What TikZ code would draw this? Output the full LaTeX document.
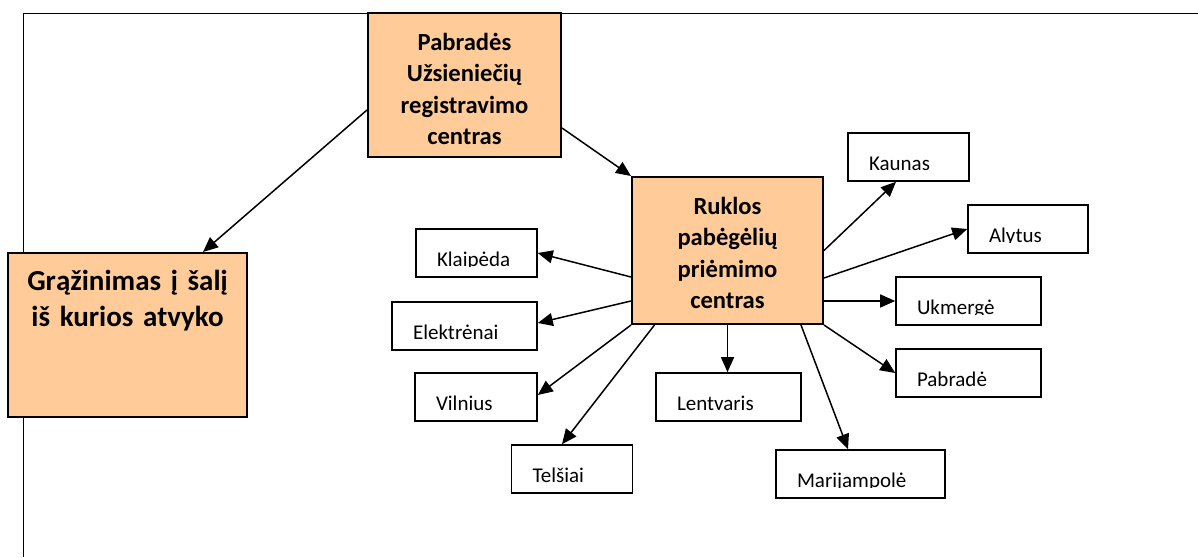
\documentclass[tikz,border=0pt]{standalone}
\usepackage{fontspec}
\setmainfont{Carlito}
\usepackage{tikz}
\usetikzlibrary{positioning,arrows.meta}
\definecolor{boxorange}{HTML}{FFCC99}
\tikzstyle{centre}=[draw, line width=1pt, fill=boxorange, align=center, inner xsep=2pt, inner ysep=0pt, text height=18.5pt, font=\fontsize{12.3}{15.8}\selectfont\bfseries]
\tikzstyle{city}=[draw, line width=0.8pt, fill=white, align=left, inner xsep=10.5pt, inner ysep=0pt, text height=18.5pt, text depth=5.5pt, font=\fontsize{10.5}{12.6}\selectfont]
\tikzstyle{link}=[->, line width=0.75pt]

\begin{document}
\begin{tikzpicture}[x=0.5pt, y=-0.5pt, >={Triangle[length=7.5pt,width=6.5pt]}]
            \useasboundingbox (0,0) rectangle (1198,557);
            \draw[line width=0.5pt] (23,557) -- (23,13) -- (1198,13);

            \node[centre, text width=92.5pt, text depth=53.5pt] (pabrades) at (464.5,85) {Pabradės\\ Užsieniečių\\ registravimo\\ centras};
            \node[centre, text width=91.5pt, text depth=55pt] (ruklos) at (727.5,250.5) {Ruklos\\ pabėgėlių\\ priėmimo\\ centras};
            \node[centre, text width=115.5pt, text depth=63.5pt, font=\fontsize{14.5}{18}\selectfont\bfseries] (grazinimas) at (127.5,335) {Grąžinimas į šalį\\ iš kurios atvyko};

            \node[city, text width=39.5pt] (klaipeda) at (476.5,253) {Klaipėda};
            \node[city, text width=51.5pt] (elektrenai) at (464.5,326) {Elektrėnai};
            \node[city, text width=40pt] (vilnius) at (476,397) {Vilnius};
            \node[city, text width=39.5pt] (telsiai) at (572,469) {Telšiai};
            \node[city, text width=51.5pt] (lentvaris) at (728.5,397) {Lentvaris};
            \node[city, text width=63.5pt] (marijampole) at (860.5,474) {Marijampolė};
            \node[city, text width=39.5pt] (kaunas) at (908.5,157) {Kaunas};
            \node[city, text width=39pt] (alytus) at (1028,229) {Alytus};
            \node[city, text width=51.5pt] (ukmerge) at (968.5,301) {Ukmergė};
            \node[city, text width=51.5pt] (pabrade) at (968.5,373) {Pabradė};

            \foreach \c in {klaipeda,elektrenai,vilnius,telsiai,lentvaris,marijampole,kaunas,alytus,ukmerge,pabrade}
                \fill[white] ([shift={(1pt,1.5pt)}]\c.south west) rectangle ([shift={(-1pt,5.2pt)}]\c.south east);

            \draw[link] ([yshift=-12.5pt]pabrades.west) -- ([xshift=37.75pt]grazinimas.north);
            \draw[link] ([yshift=-21.5pt]pabrades.east) -- (ruklos.north west);
            \draw[link] ([yshift=-13.25pt]ruklos.west) -- (klaipeda.east);
            \draw[link] ([yshift=-25.25pt]ruklos.west) -- ([yshift=1.5pt]elektrenai.east);
            \draw[link] (ruklos.south west) -- ([yshift=1pt]vilnius.east);
            \draw[link] ([xshift=-36.5pt]ruklos.south) -- ([xshift=-5pt]telsiai.north);
            \draw[link] (ruklos.south) -- (ruklos.south |- lentvaris.north);
            \draw[link] ([xshift=36.75pt]ruklos.south) -- ([xshift=-6.25pt]marijampole.north);
            \draw[link] (ruklos.south east) -- (pabrade.west);
            \draw[link] (ruklos.east |- ukmerge.west) -- (ukmerge.west);
            \draw[link] ([yshift=-13.75pt]ruklos.east) -- (alytus.west);
            \draw[link] (ruklos.east) -- ([xshift=-6.25pt]kaunas.south);
        \end{tikzpicture}
\end{document}
